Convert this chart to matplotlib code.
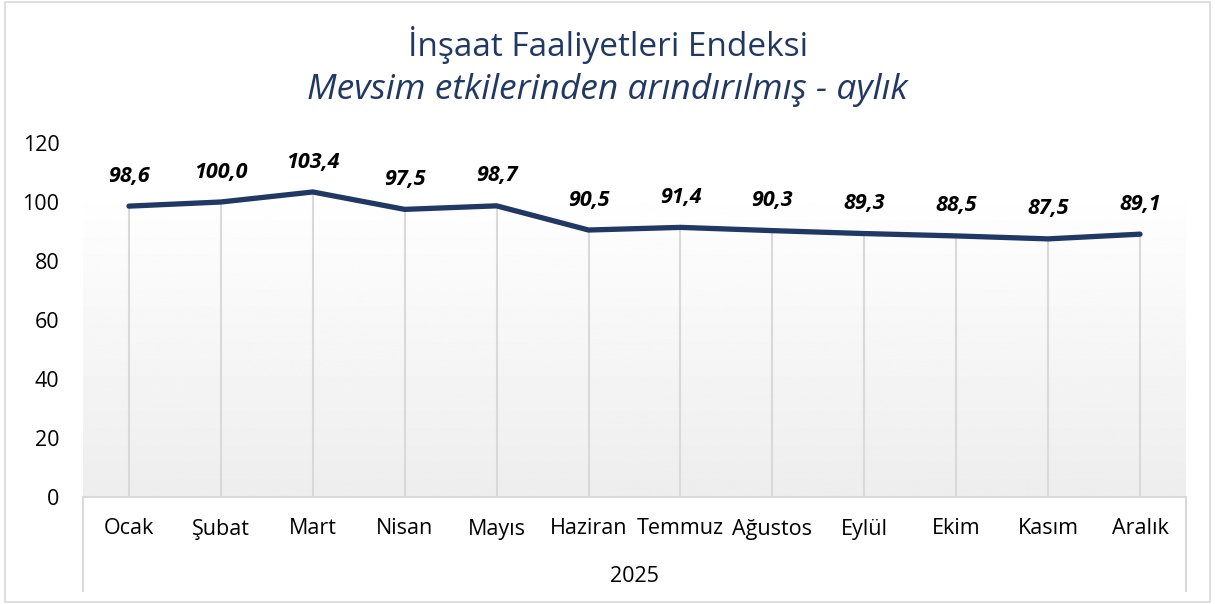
import numpy as np
import matplotlib.pyplot as plt
from matplotlib.lines import Line2D
from matplotlib.patches import Rectangle

# --- data ---
aylar = ['Ocak', 'Şubat', 'Mart', 'Nisan', 'Mayıs', 'Haziran', 'Temmuz',
         'Ağustos', 'Eylül', 'Ekim', 'Kasım', 'Aralık']
endeks = [98.6, 100.0, 103.4, 97.5, 98.7, 90.5, 91.4, 90.3, 89.3, 88.5, 87.5, 89.1]
yil = '2025'
y_ticks = [0, 20, 40, 60, 80, 100, 120]

plt.rcParams['font.family'] = ['Open Sans', 'DejaVu Sans']
lacivert = '#1f3864'
gri = '#d9d9d9'

fig = plt.figure(figsize=(12.15, 6.04), dpi=100)
fig.patch.set_facecolor('white')
fig.add_artist(Rectangle((0.004, 0.003), 0.992, 0.994, transform=fig.transFigure,
                         fill=False, edgecolor=gri, linewidth=1.2))

ax = fig.add_axes([83 / 1215, 107 / 604, 1103 / 1215, 354 / 604])
x = np.arange(len(aylar))

# gradient background (white -> light gray)
grad = np.linspace(1.0, 0.93, 256).reshape(-1, 1)
ax.imshow(grad, cmap='gray', vmin=0, vmax=1, aspect='auto',
          extent=[0, 1, 0, 0.88], transform=ax.transAxes, zorder=0)

# drop lines
ax.vlines(x, 0, endeks, color=gri, linewidth=1.5, zorder=1)
ax.plot(x, endeks, color=lacivert, linewidth=3.8, solid_capstyle='round',
        solid_joinstyle='round', zorder=3)

for xi, v in zip(x, endeks):
    ax.annotate(f'{v:.1f}'.replace('.', ','), (xi, v), xytext=(0, 14),
                textcoords='offset points', ha='center', va='bottom',
                fontsize=15.5, fontweight='bold', fontstyle='italic', color='black')

ax.set_xlim(-0.5, len(aylar) - 0.5)
ax.set_ylim(0, 120)
ax.set_yticks(y_ticks)
ax.set_yticklabels([str(t) for t in y_ticks], fontsize=15.5)
ax.tick_params(axis='y', length=0, pad=17)
ax.set_xticks([])
for s in ax.spines.values():
    s.set_visible(False)

# category axis (months + year)
for xi, ay in zip(x, aylar):
    ax.text(xi, -32 / 354, ay, transform=ax.get_xaxis_transform(),
            ha='center', va='center', fontsize=15.5, color='black')
ax.text(0.5, -79 / 354, yil, transform=ax.transAxes, ha='center', va='center',
        fontsize=15.5, color='black')
ax.add_line(Line2D([0, 1], [0, 0], transform=ax.transAxes, color=gri,
                   linewidth=1.5, clip_on=False))
for xx in [0, 1]:
    ax.add_line(Line2D([xx, xx], [0, -94 / 354], transform=ax.transAxes,
                       color=gri, linewidth=1.5, clip_on=False))

fig.text(0.5, 1 - 45 / 604, 'İnşaat Faaliyetleri Endeksi', ha='center', va='center',
         fontsize=24, color=lacivert)
fig.text(0.5, 1 - 90 / 604, 'Mevsim etkilerinden arındırılmış - aylık', ha='center',
         va='center', fontsize=25.5, fontstyle='italic', color=lacivert)

fig.savefig('out.png', dpi=100)
